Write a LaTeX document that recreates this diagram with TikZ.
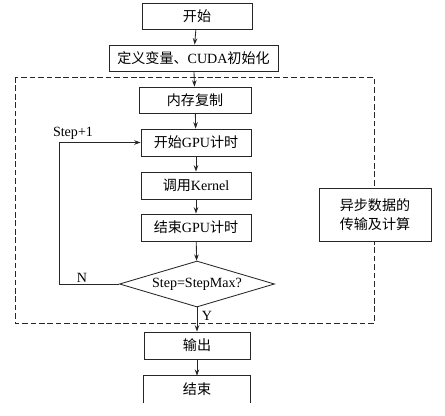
\documentclass[tikz,border=0pt]{standalone}
\usepackage{fontspec}
\setmainfont{Liberation Serif}
\newfontfamily\cjk{Noto Sans CJK SC}
\usetikzlibrary{shapes.geometric,arrows.meta}
\begin{document}
\begin{tikzpicture}[x=0.025cm,y=-0.025cm,
  every node/.style={font=\fontsize{10pt}{12pt}\selectfont},
  box/.style={draw=black!85,line width=0.6pt,fill=white,inner sep=0pt,align=center},
  arr/.style={draw=black!85,line width=0.6pt,-{Stealth[length=4.5pt,width=3.2pt]}},
  lbl/.style={inner sep=0pt}]
\useasboundingbox (0,0) rectangle (445,415);
% dashed region
\draw[black!85,line width=0.6pt,dash pattern=on 4pt off 2pt] (15,77) rectangle (374,323);
\node[box,minimum width=110*0.025cm,minimum height=26*0.025cm] (start) at (197,16) {\cjk 开始};
\node[box,minimum width=169*0.025cm,minimum height=26*0.025cm] (init) at (193.5,58) {{\cjk 定义变量、}CUDA{\cjk 初始化}};
\node[box,minimum width=112*0.025cm,minimum height=26*0.025cm] (mem) at (195,100) {\cjk 内存复制};
\node[box,minimum width=110*0.025cm,minimum height=27*0.025cm] (gpu1) at (196,142.5) {{\cjk 开始}GPU{\cjk 计时}};
\node[box,minimum width=110*0.025cm,minimum height=27*0.025cm] (kern) at (196,185.5) {{\cjk 调用}Kernel};
\node[box,minimum width=110*0.025cm,minimum height=27*0.025cm] (gpu2) at (196,227.5) {{\cjk 结束}GPU{\cjk 计时}};
\node[box,shape=diamond,aspect=3.35,inner sep=1pt,minimum width=155*0.025cm,minimum height=46*0.025cm] (dec) at (197,284) {Step=StepMax?};
\node[box,minimum width=106*0.025cm,minimum height=27*0.025cm] (out) at (197,345.5) {\cjk 输出};
\node[inner sep=0pt,minimum width=106*0.025cm,minimum height=27*0.025cm] (end) at (197,389.5) {\cjk 结束};
\draw[black!85,line width=0.6pt] (end.south west) -- (end.north west) -- (end.north east) -- (end.south east);
\node[box,minimum width=112*0.025cm,minimum height=53*0.025cm,font=\cjk\fontsize{10pt}{13pt}\selectfont] (async) at (375,214.5) {异步数据的\\传输及计算};
\coordinate (lp) at (59,284);
\coordinate (lq) at (59,142.5);
% connectors
\draw[arr] (start) -- (init);
\draw[arr] (init) -- (mem);
\draw[arr] (mem) -- (gpu1);
\draw[arr] (gpu1) -- (kern);
\draw[arr] (kern) -- (gpu2);
\draw[arr] (gpu2) -- (dec);
\draw[arr] (dec) -- (out);
\draw[arr] (out) -- (end);
\draw[arr] (dec.west) -- (lp) -- (lq) -- (gpu1.west);
\node[lbl] (step) at (73,133) {Step+1};
\node[lbl] (nlab) at (82,278) {N};
\node[lbl] (ylab) at (207,316) {Y};
\end{tikzpicture}
\end{document}
